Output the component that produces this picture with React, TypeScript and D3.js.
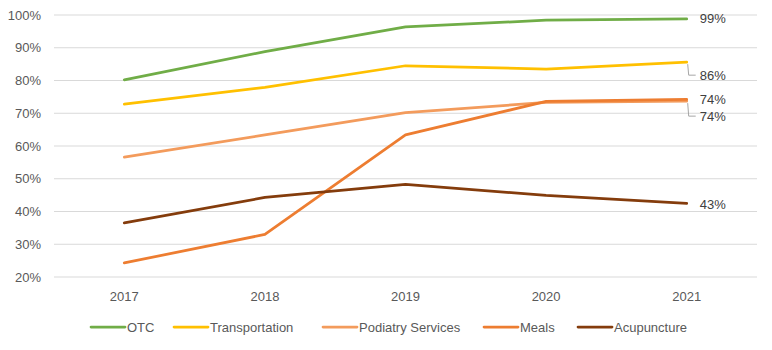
import React from 'react';
import * as d3 from 'd3';

const years = ['2017', '2018', '2019', '2020', '2021'];
const otc = [80.2, 88.8, 96.4, 98.4, 98.8];
const transportation = [72.8, 77.9, 84.5, 83.5, 85.6];
const podiatry = [56.6, 63.4, 70.2, 73.3, 73.7];
const meals = [24.3, 33.0, 63.4, 73.6, 74.2];
const acupuncture = [36.5, 44.3, 48.3, 44.9, 42.5];
const yTicks = [20, 30, 40, 50, 60, 70, 80, 90, 100];

const seriesNames = ['OTC', 'Transportation', 'Podiatry Services', 'Meals', 'Acupuncture'];
const seriesColors = ['#70AD47', '#FFC000', '#F39B5C', '#ED7D31', '#843C0C'];
const seriesValues = [otc, transportation, podiatry, meals, acupuncture];
// end labels: text shown at last point
const endLabels = ['99%', '86%', '74%', '74%', '43%'];

const W = 772;
const H = 350;
const FONT = '"Liberation Sans", Arial, sans-serif';

export default function App() {
  const x = d3.scaleBand<string>().domain(years).range([54, 757]);
  const y = d3.scaleLinear().domain([20, 100]).range([277, 15]);

  const line = d3.line<number>()
    .x((_, i) => (x(years[i]) as number) + x.bandwidth() / 2)
    .y(d => y(d));

  const lastX = (x(years[years.length - 1]) as number) + x.bandwidth() / 2;

  // label positions next to last point, leader lines where Excel moved them
  const labelPos = [
    { dx: 13, y: y(otc[4]), leader: false },
    { dx: 13, y: y(transportation[4]) + 13, leader: true },
    { dx: 13, y: y(podiatry[4]) + 15, leader: true },
    { dx: 13, y: y(meals[4]), leader: false },
    { dx: 13, y: y(acupuncture[4]) + 1, leader: false },
  ];

  const legendX = [91, 174, 323, 484, 578];

  return (
    <svg width={W} height={H} style={{ position: 'absolute', left: 0, top: 0, background: '#fff' }}
      fontFamily={FONT}>
      {yTicks.map(t => (
        <g key={t}>
          <line x1={54} x2={757} y1={y(t)} y2={y(t)} stroke="#d9d9d9" strokeWidth={1} />
          <text x={41} y={y(t)} dy="0.35em" textAnchor="end" fontSize={13} fill="#595959">{t}%</text>
        </g>
      ))}
      {years.map(yr => (
        <text key={yr} x={(x(yr) as number) + x.bandwidth() / 2} y={296} dy="0.35em" textAnchor="middle"
          fontSize={13} fill="#595959">{yr}</text>
      ))}
      {seriesValues.map((vals, i) => (
        <path key={seriesNames[i]} d={line(vals) || ''} fill="none" stroke={seriesColors[i]}
          strokeWidth={2.75} strokeLinejoin="round" strokeLinecap="round" />
      ))}
      {labelPos.map((p, i) => (
        <g key={'lbl' + i}>
          {p.leader && (
            <polyline
              points={`${lastX + 1},${y(seriesValues[i][4]) + 2} ${lastX + 2},${p.y} ${lastX + 9},${p.y}`}
              fill="none" stroke="#a6a6a6" strokeWidth={1} />
          )}
          <text x={lastX + p.dx} y={p.y} dy="0.35em" fontSize={13} fill="#404040">{endLabels[i]}</text>
        </g>
      ))}
      {seriesNames.map((name, i) => (
        <g key={'leg' + name}>
          <line x1={legendX[i]} x2={legendX[i] + 34} y1={327} y2={327} stroke={seriesColors[i]}
            strokeWidth={2.75} strokeLinecap="round" />
          <text x={legendX[i] + 36} y={327} dy="0.35em" fontSize={13} fill="#595959">{name}</text>
        </g>
      ))}
    </svg>
  );
}
